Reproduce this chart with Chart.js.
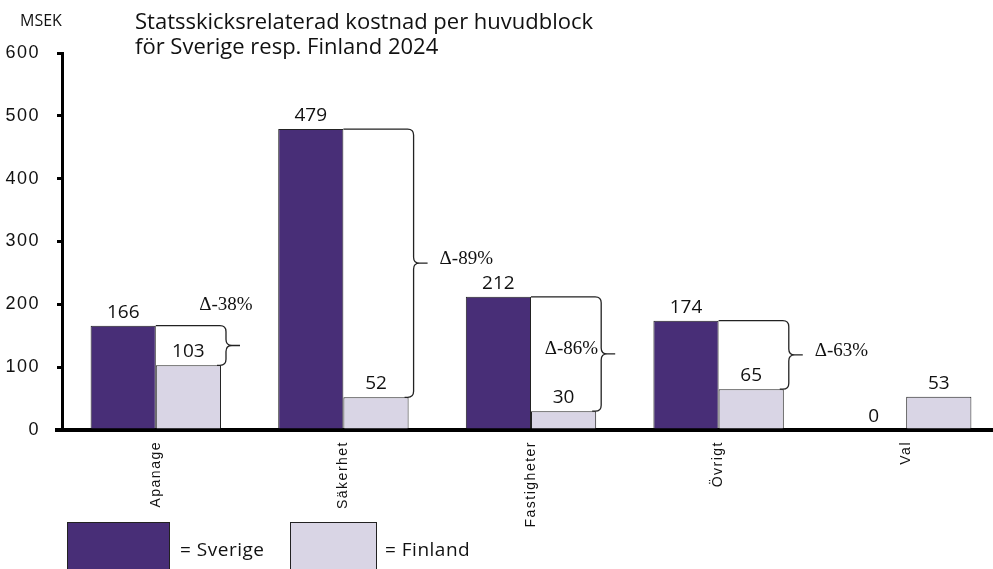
<!DOCTYPE html>
<html>
<head>
<meta charset="utf-8">
<script src="https://cdn.jsdelivr.net/npm/chart.js@4.4.0/dist/chart.umd.min.js"></script>
<style>
  html, body { margin: 0; padding: 0; background: #fff; overflow: hidden; }
  #wrap { position: relative; width: 1000px; height: 569px; }
  #wrap canvas { position: absolute; left: 0; top: 0; }
  .txt { position: absolute; font-family: "Open Sans", sans-serif; color: #111; white-space: nowrap; }
  .unit { left: 20px; top: 9px; font-size: 16px; line-height: 22px; }
  .title { left: 135px; top: 8px; font-size: 22px; line-height: 25px; }
  .swatch { position: absolute; top: 522px; height: 60px; border: 1px solid #222; box-sizing: border-box; }
  .legtxt { top: 536px; font-size: 19px; line-height: 26px; letter-spacing: 0.5px; }
</style>
</head>
<body>
<div id="wrap">
  <canvas id="myChart" width="1000" height="569"></canvas>
  <div class="txt unit">MSEK</div>
  <div class="txt title">Statsskicksrelaterad kostnad per huvudblock<br>för Sverige resp. Finland 2024</div>
  <div class="swatch" style="left:67px;width:103px;background:#482e77"></div>
  <div class="txt legtxt" style="left:180px">= Sverige</div>
  <div class="swatch" style="left:290px;width:87px;background:#d9d5e5"></div>
  <div class="txt legtxt" style="left:385px">= Finland</div>
</div>
<script>
const categories = ["Apanage", "Säkerhet", "Fastigheter", "Övrigt", "Val"];
const sverige = [166, 479, 212, 174, 0];
const finland = [103, 52, 30, 65, 53];
const yTicks = [0, 100, 200, 300, 400, 500, 600];
// where the delta text sits next to each brace
const deltaPlacement = ["above", "right", "left", "right", null];

const SVERIGE_COLOR = "#482e77";
const FINLAND_COLOR = "#d9d5e5";

const annotations = {
  id: "annotations",
  beforeDraw(chart) {
    chart.ctx.letterSpacing = "1.5px";
  },
  afterDatasetsDraw(chart) {
    const ctx = chart.ctx;
    const y = chart.scales.y;
    const area = chart.chartArea;
    const sv = chart.getDatasetMeta(0).data;
    const fi = chart.getDatasetMeta(1).data;
    ctx.save();
    ctx.letterSpacing = "0px";

    // x axis runs on a bit to the left of the y axis
    ctx.strokeStyle = "#000";
    ctx.lineWidth = 4;
    ctx.beginPath();
    ctx.moveTo(area.left - 7, y.getPixelForValue(0));
    ctx.lineTo(area.left, y.getPixelForValue(0));
    ctx.stroke();

    // white box + brace between Sverige and Finland
    sverige.forEach((s, i) => {
      const f = finland[i];
      if (!deltaPlacement[i] || !(s > f)) return;
      const bar = fi[i];
      const left = bar.x - bar.width / 2;
      const bx = bar.x + bar.width / 2 + 5;
      const top = y.getPixelForValue(s);
      const bottom = y.getPixelForValue(f);
      const mid = (top + bottom) / 2;
      const r = 6;

      ctx.fillStyle = "#fff";
      ctx.fillRect(left + 0.5, top, bx - left, bottom - top - 0.5);

      ctx.strokeStyle = "#222";
      ctx.lineWidth = 1.3;
      ctx.beginPath();
      ctx.moveTo(left, top);
      ctx.lineTo(bx - r, top);
      ctx.quadraticCurveTo(bx, top, bx, top + r);
      ctx.lineTo(bx, mid - r);
      ctx.quadraticCurveTo(bx, mid, bx + r, mid);
      ctx.lineTo(bx + r + 8, mid);
      ctx.moveTo(bx + r, mid);
      ctx.quadraticCurveTo(bx, mid, bx, mid + r);
      ctx.lineTo(bx, bottom - r);
      ctx.quadraticCurveTo(bx, bottom, bx - r, bottom);
      ctx.lineTo(bar.x + bar.width / 2 - 4, bottom);
      ctx.stroke();

      const pct = Math.round(((f - s) / s) * 100);
      const label = "\u0394" + pct + "%";
      ctx.fillStyle = "#111";
      ctx.font = '19px "Liberation Serif", "Times New Roman", serif';
      ctx.textBaseline = "middle";
      if (deltaPlacement[i] === "above") {
        ctx.textAlign = "center";
        ctx.fillText(label, bx, top - 21);
      } else if (deltaPlacement[i] === "right") {
        ctx.textAlign = "left";
        ctx.fillText(label, bx + r + 20, mid - 4);
      } else {
        ctx.textAlign = "right";
        ctx.fillText(label, bx - 3, mid - 5);
      }
    });

    // value labels
    ctx.font = '19px "Open Sans", sans-serif';
    ctx.fillStyle = "#111";
    ctx.textAlign = "center";
    ctx.textBaseline = "alphabetic";
    [sv, fi].forEach((bars, d) => {
      const vals = d === 0 ? sverige : finland;
      bars.forEach((b, i) => {
        ctx.fillText(String(vals[i]), b.x, b.y - 8);
      });
    });
    ctx.restore();
  },
};

const myChart = new Chart(document.querySelector("#myChart"), {
  type: "bar",
  data: {
    labels: categories,
    datasets: [
      {
        label: "Sverige",
        data: sverige,
        backgroundColor: SVERIGE_COLOR,
        borderColor: "#222",
        borderWidth: 1,
        barPercentage: 1,
        categoryPercentage: 0.695,
      },
      {
        label: "Finland",
        data: finland,
        backgroundColor: FINLAND_COLOR,
        borderColor: "#222",
        borderWidth: 1,
        barPercentage: 1,
        categoryPercentage: 0.695,
      },
    ],
  },
  options: {
    responsive: false,
    animation: false,
    layout: { padding: { top: 53, left: 0, right: 0, bottom: 0 } },
    plugins: {
      legend: { display: false },
      tooltip: { enabled: false },
    },
    scales: {
      x: {
        afterFit(scale) {
          scale.height = 139;
        },
        grid: { display: false, drawTicks: false },
        border: { display: true, color: "#000", width: 4 },
        ticks: {
          maxRotation: 90,
          minRotation: 90,
          padding: 11,
          color: "#111",
          font: { family: "Liberation Sans", size: 14 },
        },
      },
      y: {
        min: 0,
        max: 600,
        afterFit(scale) {
          scale.width = 62;
        },
        afterBuildTicks(scale) {
          scale.ticks = yTicks.map((v) => ({ value: v }));
        },
        grid: {
          drawOnChartArea: false,
          drawTicks: true,
          tickLength: 5,
          lineWidth: 3,
          color: "#000",
        },
        border: { display: true, color: "#000", width: 3 },
        ticks: {
          padding: 17,
          color: "#111",
          font: { family: "Liberation Sans", size: 18 },
        },
      },
    },
  },
  plugins: [annotations],
});
</script>
</body>
</html>
